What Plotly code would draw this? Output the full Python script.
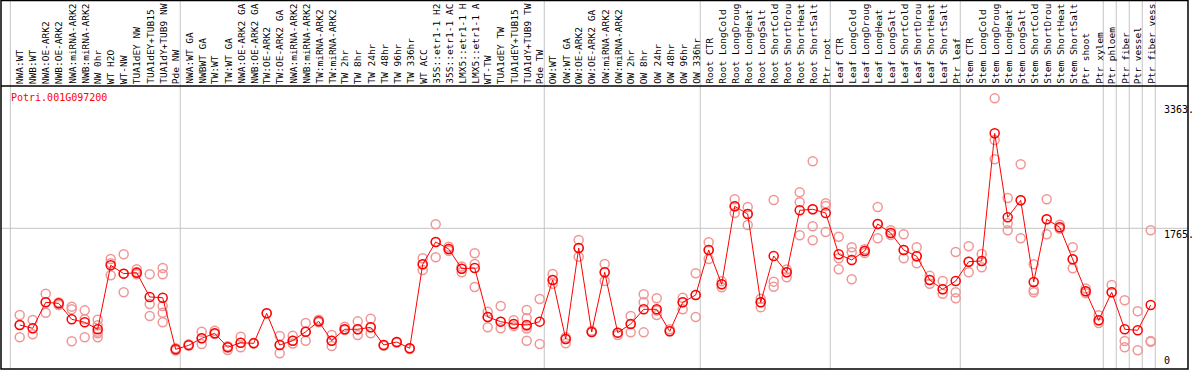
import plotly.graph_objects as go

gene = "Potri.001G097200"

categories = [
    "NWA:WT", "NWB:WT", "NWA:OE-ARK2", "NWB:OE-ARK2", "NWA:miRNA-ARK2", "NWB:miRNA-ARK2",
    "NW 0hr", "WT H2O", "WT-NW", "TUA1dEY NW", "TUA1dEY+TUB15 NW", "TUA1dY+TUB9 NW", "Pde NW",
    "NWA:WT GA", "NWBWT GA", "TW:WT", "TW:WT GA", "NWA:OE-ARK2 GA", "NWB:OE-ARK2 GA",
    "TW:OE-ARK2", "TW:OE-ARK2 GA", "NWA:miRNA-ARK2", "NWB:miRNA-ARK2", "TW:miRNA-ARK2",
    "TW:miRNA-ARK2", "TW 2hr", "TW 8hr", "TW 24hr", "TW 48hr", "TW 96hr", "TW 336hr",
    "WT ACC", "35S::etr1-1 H2O", "35S::etr1-1 ACC", "LMX5::etr1-1 H2O", "LMX5::etr1-1 ACC",
    "WT-TW", "TUA1dEY TW", "TUA1dEY+TUB15 TW", "TUA1dY+TUB9 TW", "Pde TW",
    "OW:WT", "OW:WT GA", "OW:OE-ARK2", "OW:OE-ARK2 GA", "OW:miRNA-ARK2", "OW:miRNA-ARK2",
    "OW 2hr", "OW 8hr", "OW 24hr", "OW 48hr", "OW 96hr", "OW 336hr",
    "Root CTR", "Root LongCold", "Root LongDrought", "Root LongHeat", "Root LongSalt",
    "Root ShortCold", "Root ShortDrought", "Root ShortHeat", "Root ShortSalt", "Ptr root",
    "Leaf CTR", "Leaf LongCold", "Leaf LongDrought", "Leaf LongHeat", "Leaf LongSalt",
    "Leaf ShortCold", "Leaf ShortDrought", "Leaf ShortHeat", "Leaf ShortSalt", "Ptr leaf",
    "Stem CTR", "Stem LongCold", "Stem LongDrought", "Stem LongHeat", "Stem LongSalt",
    "Stem ShortCold", "Stem ShortDrought", "Stem ShortHeat", "Stem ShortSalt", "Ptr shoot",
    "Ptr xylem", "Ptr phloem", "Ptr fiber", "Ptr vessel", "Ptr fiber vessel",
]

mean_values = [
    534, 492, 823, 810, 607, 569, 480, 1294, 1188, 1200, 891, 882, 225,
    276, 365, 429, 251, 309, 301, 683, 280, 335, 449, 581, 335, 480, 480, 505, 280, 318, 238,
    1307, 1591, 1502, 1251, 1260, 636, 577, 547, 534, 577,
    1107, 356, 1514, 445, 1205, 437, 547, 734, 734, 454, 823, 916,
    1489, 1052, 2045, 1947, 823, 1413, 1205, 1994, 2007, 1960,
    1434, 1362, 1476, 1820, 1705, 1489, 1409, 1107, 989, 1094,
    1340, 1349, 2974, 1905, 2121, 1082, 1880, 1778, 1371, 963,
    594, 951, 480, 467, 789,
]

replicates = [
    [662, 378, 534], [598, 416, 492], [933, 691, 823], [800, 789, 820], [768, 734, 327],
    [721, 607, 378], [602, 530, 450, 429, 378], [1374, 1167, 1320], [1434, 951, 1188],
    [1243, 1180, 1210], [1180, 802, 649], [1260, 1180, 776, 691, 569], [240, 210, 225],
    [276, 290], [449, 293, 365], [462, 420, 429], [216, 265, 251], [386, 251, 309],
    [301, 310], [683], [395, 174, 280], [398, 300, 335], [560, 335, 449], [602, 570, 581],
    [407, 267, 335], [513, 480, 470], [581, 407, 480], [615, 429, 505], [280, 270],
    [318, 310], [238, 230],
    [1383, 1234, 1307], [1816, 1396, 1591], [1530, 1480, 1502], [1280, 1205, 1251],
    [1447, 1311, 1018], [704, 505, 636], [776, 492, 577], [594, 520, 547],
    [725, 620, 520, 490, 335], [865, 293],
    [1184, 1060, 1107], [380, 301, 356], [1616, 1404, 1514], [445, 460], [1311, 1094, 1205],
    [407, 437], [649, 441, 547], [925, 823, 441], [874, 662, 720], [454, 480],
    [882, 734, 823], [1192, 636, 916],
    [1587, 1374, 1489], [1090, 1014, 1052], [2134, 1960, 2045], [2036, 1807, 1947],
    [870, 760, 823], [2125, 1086, 1022], [1142, 1240, 1205], [2223, 2096, 1676],
    [2618, 1791, 1612, 2007], [2083, 2050, 1718],
    [1658, 1383, 1243], [1523, 1460, 1116], [1500, 1450, 1476], [2036, 1638, 1820],
    [1740, 1680, 1705], [1689, 1383, 1489], [1523, 1320, 1409], [1160, 1060, 1107],
    [1094, 933, 989], [1463, 951, 874],
    [1536, 1205, 1340], [1438, 1269, 1349], [3419, 2889, 2643], [2151, 1830, 1740],
    [2580, 2121, 1638], [1307, 980, 950], [2134, 1689, 1880], [1810, 1760, 1778],
    [1523, 1256, 1371], [1000, 940, 963],
    [660, 560, 594], [1044, 951], [849, 331, 251], [709, 213], [1740, 331, 320],
]

tick_values = [3363, 1765, 0]
tick_labels = ["3363.", "1765.", "0"]
group_separators = [0, 13, 41, 53, 63, 73, 84, 85, 86, 87, 88]

FONT = "DejaVu Sans Mono"
W, H = 1194, 370
ML, MR, MT, MB = 1, 6, 86, 1

x_idx = list(range(1, len(categories) + 1))
rep_x, rep_y = [], []
for i, reps in zip(x_idx, replicates):
    for v in reps:
        rep_x.append(i)
        rep_y.append(v)

fig = go.Figure()
fig.add_trace(go.Scatter(
    x=rep_x, y=rep_y, mode="markers",
    marker=dict(symbol="circle-open", size=9, color="rgb(240,150,150)", line=dict(width=1.5)),
    hoverinfo="skip", showlegend=False,
))
fig.add_trace(go.Scatter(
    x=x_idx, y=mean_values, mode="lines+markers",
    line=dict(color="red", width=1),
    marker=dict(symbol="circle-open", size=9, color="red", line=dict(width=1.5)),
    showlegend=False,
))

top_paper = 1 + (MT - 0.5) / (H - MT - MB)

shapes = []
for s in group_separators:
    xs = 0.28 if s == 0 else s + 0.35
    shapes.append(dict(type="line", xref="x", yref="paper", x0=xs, x1=xs, y0=0, y1=top_paper,
                       line=dict(color="#c4c4c4", width=1), layer="below"))
shapes.append(dict(type="line", xref="paper", yref="y", x0=0, x1=1, y0=1765, y1=1765,
                   line=dict(color="#c4c4c4", width=1), layer="below"))
shapes.append(dict(type="rect", xref="paper", yref="paper", x0=0, x1=1, y0=0, y1=top_paper,
                   line=dict(color="black", width=1.5)))
shapes.append(dict(type="line", xref="paper", yref="paper", x0=0, x1=1, y0=1, y1=1,
                   line=dict(color="black", width=1.5)))

annotations = []
for i, name in zip(x_idx, categories):
    annotations.append(dict(x=i, y=1, xref="x", yref="paper", text=name[:14], textangle=-90,
                            xanchor="center", yanchor="bottom", showarrow=False, yshift=1,
                            font=dict(family=FONT, size=9.5, color="black"), borderpad=0))
annotations.append(dict(x=(9 - ML) / (W - ML - MR), y=1 - (97.5 - MT) / (H - MT - MB),
                        xref="paper", yref="paper", text=gene, xanchor="left", yanchor="middle",
                        showarrow=False, font=dict(family=FONT, size=10, color="red")))
for v, t in zip(tick_values, tick_labels):
    annotations.append(dict(x=(1163 - ML) / (W - ML - MR), y=v, xref="paper", yref="y", text=t,
                            xanchor="left", yanchor="bottom" if v == 0 else "top",
                            showarrow=False, borderpad=0,
                            font=dict(family=FONT, size=10, color="black")))

fig.update_layout(
    width=W, height=H,
    margin=dict(l=ML, r=MR, t=MT, b=MB, pad=0),
    plot_bgcolor="white", paper_bgcolor="white",
    xaxis=dict(range=[-0.4385, 90.869], showgrid=False, zeroline=False, showticklabels=False,
               showline=False, fixedrange=True),
    yaxis=dict(range=[-25.5, 3576], showgrid=False, zeroline=False, showticklabels=False,
               showline=False, fixedrange=True),
    shapes=shapes, annotations=annotations, showlegend=False,
)

fig.write_html(
    "out.html",
    config={"displayModeBar": False},
    post_script="document.body.style.margin='0px';document.body.style.overflow='hidden';",
)
